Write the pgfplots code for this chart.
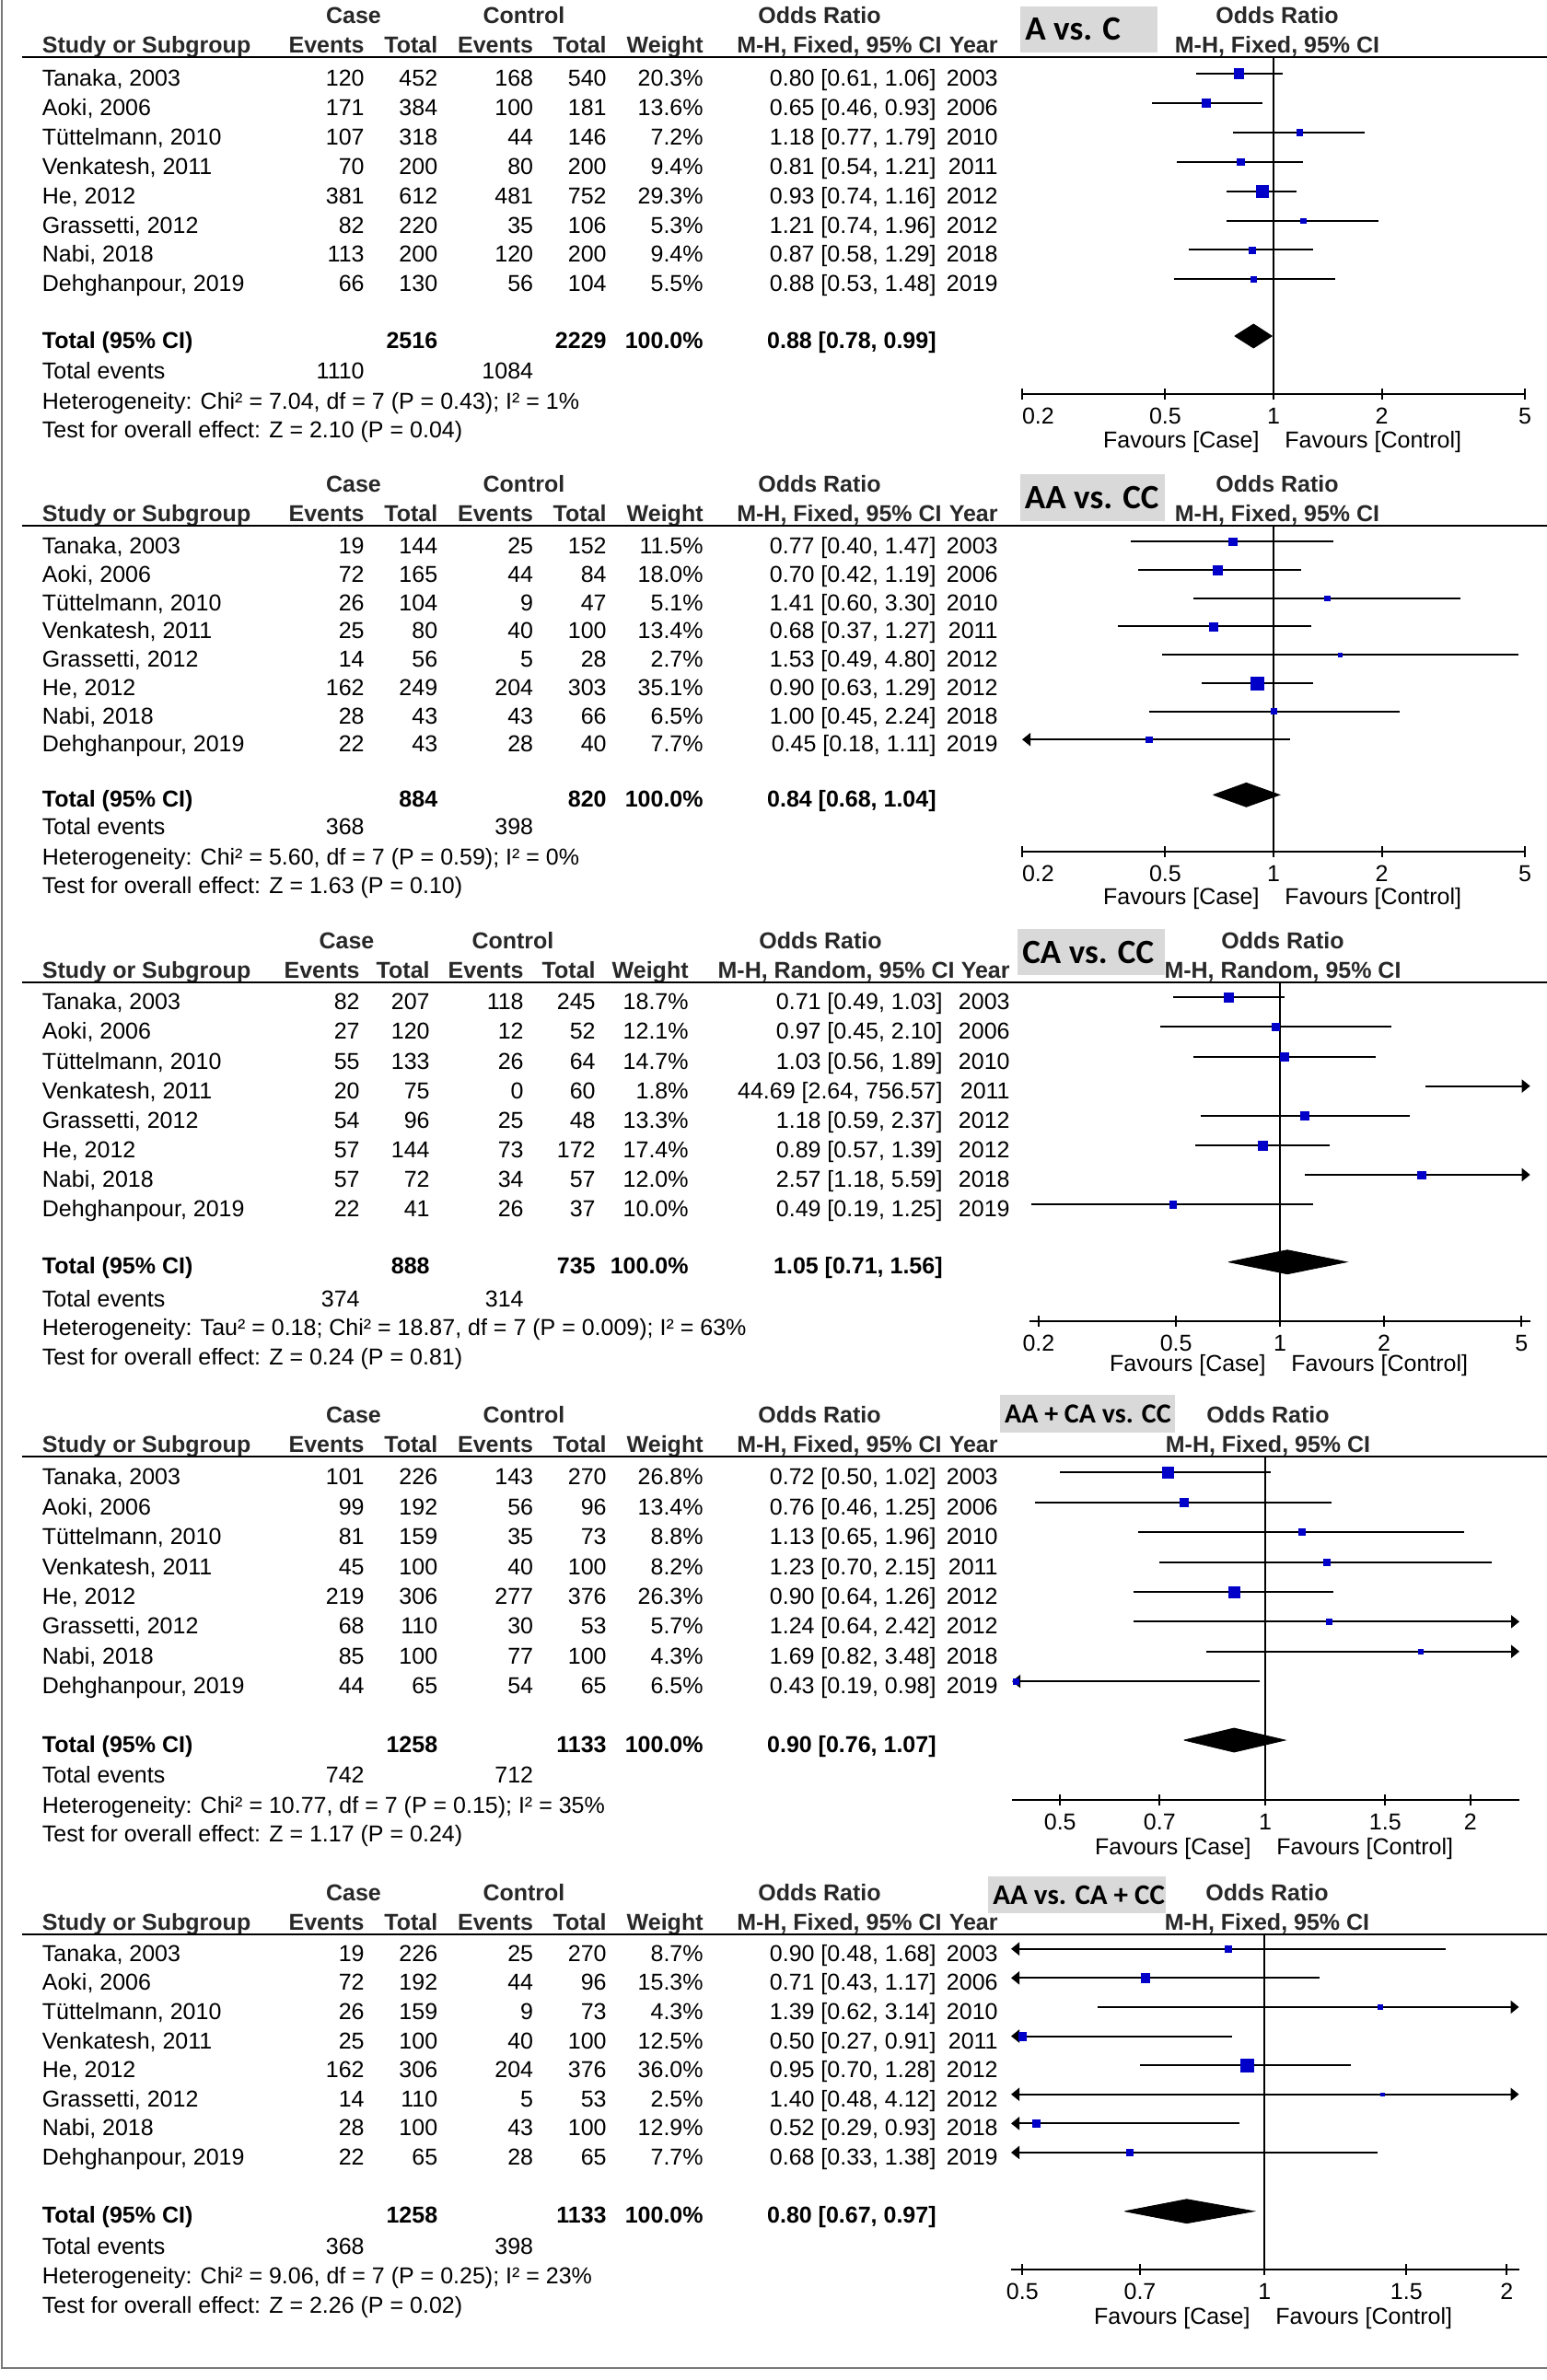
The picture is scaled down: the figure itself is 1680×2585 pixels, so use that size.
\documentclass[border=0pt]{standalone}
\usepackage{pgfplots}
\pgfplotsset{compat=1.18}
\usepackage{fontspec}
\setmainfont{Liberation Sans}
\newfontfamily\boxfont{Carlito}
\usetikzlibrary{arrows.meta}

\definecolor{sqblue}{RGB}{0,0,200}
\definecolor{boxgray}{RGB}{217,217,217}
\definecolor{framegray}{RGB}{120,120,120}
\definecolor{hdr}{RGB}{40,40,40}

\newcommand\tf{\fontsize{12.5}{15}\selectfont}

\tikzset{
  ar/.style={-{Triangle[length=4.5pt,width=7pt]}},
  al/.style={{Triangle[length=4.5pt,width=7pt]}-},
  alr/.style={{Triangle[length=4.5pt,width=7pt]}-{Triangle[length=4.5pt,width=7pt]}},
}
\pgfplotsset{
  fplot/.style={
    scale only axis, clip=false, anchor=south west,
    axis x line=bottom, axis y line=none,
    axis line style={-, line width=1pt, black},
    tick align=center, major tick length=6pt,
    xtick style={black, line width=1pt},
    xticklabel style={font=\tf, inner sep=0pt, anchor=north, yshift=-4.5pt},
  },
  ci/.style={black, line width=1pt, no marks, forget plot},
  sq/.style={only marks, mark=square*, color=sqblue, mark options={line width=0.2pt}, forget plot},
}
% study: [arrow]{row}{OR}{lo}{hi}{weight}
\newcommand\st[6][]{%
  \addplot[ci,#1] coordinates {(#4,-#2) (#5,-#2)};
  \addplot[sq, mark size={0.6*sqrt(#6)}] coordinates {(#3,-#2)};
}
% pooled diamond: {y}{top}{bottom}{OR}{lo}{hi}
\newcommand\dia[6]{%
  \addplot[fill=black, draw=black, line width=0.4pt, forget plot]
    coordinates {(#5,#1) (#4,#2) (#6,#1) (#4,#3) (#5,#1)};
}

% table columns
\newcommand\setstd{\def\xN{45.5}\def\xA{396}\def\xB{475.6}\def\xC{579.5}\def\xD{659}%
  \def\xW{764}\def\xO{1017}\def\xOh{1023}\def\xY{1084}\def\xCase{384}\def\xCtrl{569}\def\xOR{890}}
\newcommand\setwide{\def\xN{45.5}\def\xA{391}\def\xB{467}\def\xC{569}\def\xD{647}%
  \def\xW{748}\def\xO{1024}\def\xOh{1037}\def\xY{1097}\def\xCase{376.5}\def\xCtrl{557}\def\xOR{891}}

\newcommand\hdr[2]{%
  \begin{scope}[font=\tf\bfseries, text=hdr]
    \node[anchor=base] at (\xCase,\hA) {Case};
    \node[anchor=base] at (\xCtrl,\hA) {Control};
    \node[anchor=base] at (\xOR,\hA) {Odds Ratio};
    \node[anchor=base] at (#2,\hA) {Odds Ratio};
    \node[anchor=base west] at (\xN,\hB) {Study or Subgroup};
    \node[anchor=base east] at (\xA,\hB) {Events};
    \node[anchor=base east] at (\xB,\hB) {Total};
    \node[anchor=base east] at (\xC,\hB) {Events};
    \node[anchor=base east] at (\xD,\hB) {Total};
    \node[anchor=base east] at (\xW,\hB) {Weight};
    \node[anchor=base east] at (\xOh,\hB) {M-H, #1, 95\% CI};
    \node[anchor=base east] at (\xY,\hB) {Year};
    \node[anchor=base] at (#2,\hB) {M-H, #1, 95\% CI};
  \end{scope}
  \draw[line width=1pt] (24,\Lp) -- (1680,\Lp);
}
\newcommand\trow[9]{%
  \node[anchor=base west] at (\xN,{\rO+#1*\dR+13.5}) {#2};
  \node[anchor=base east] at (\xA,{\rO+#1*\dR+13.5}) {#3};
  \node[anchor=base east] at (\xB,{\rO+#1*\dR+13.5}) {#4};
  \node[anchor=base east] at (\xC,{\rO+#1*\dR+13.5}) {#5};
  \node[anchor=base east] at (\xD,{\rO+#1*\dR+13.5}) {#6};
  \node[anchor=base east] at (\xW,{\rO+#1*\dR+13.5}) {#7\%};
  \node[anchor=base east] at (\xO,{\rO+#1*\dR+13.5}) {#8};
  \node[anchor=base east] at (\xY,{\rO+#1*\dR+13.5}) {#9};
}
\newcommand\tot[5]{%
  \begin{scope}[font=\tf\bfseries]
    \node[anchor=base west] at (\xN,\tT) {Total (95\% CI)};
    \node[anchor=base east] at (\xB,\tT) {#1};
    \node[anchor=base east] at (\xD,\tT) {#2};
    \node[anchor=base east] at (\xW,\tT) {100.0\%};
    \node[anchor=base east] at (\xO,\tT) {#3};
  \end{scope}
  \node[anchor=base west] at (\xN,\tE) {Total events};
  \node[anchor=base east] at (\xA,\tE) {#4};
  \node[anchor=base east] at (\xC,\tE) {#5};
}
\newcommand\foot[3]{%
  \node[anchor=base west] at (\xN,\tH) {Heterogeneity: #1};
  \node[anchor=base west] at (\xN,\tS) {Test for overall effect: #2};
  \node[anchor=base east] at ({#3-15},\tF) {Favours [Case]};
  \node[anchor=base west] at ({#3+12},\tF) {Favours [Control]};
}
\newcommand\bx[6]{%
  \fill[boxgray] (#1,#2) rectangle (#3,#4);
  \node[anchor=west, font=\boxfont\bfseries\fontsize{#5}{#5}\selectfont] at ({#1+5},{(#2+#4)/2}) {#6};
}

\begin{document}
\begin{tikzpicture}
\begin{scope}[x=0.5pt, y=-0.5pt, every node/.style={inner sep=0pt}, font=\tf]
  \path[use as bounding box] (0,0) rectangle (1680,2585);
  \draw[framegray, line width=1.2pt] (2,0) -- (2,2572) -- (1680,2572);

  % ---- A vs. C
  \setstd
  \def\Lp{62.3}\def\hA{25.8}\def\hB{58}\def\rO{80}\def\dR{31.9}
  \def\tT{378}\def\tE{411.7}\def\tH{444}\def\tS{475.7}\def\tF{486}
  \bx{1108}{7}{1257}{57}{18.5}{A vs. C}
  \hdr{Fixed}{1387}
  \trow{0}{Tanaka, 2003}{120}{452}{168}{540}{20.3}{0.80 [0.61, 1.06]}{2003}
  \trow{1}{Aoki, 2006}{171}{384}{100}{181}{13.6}{0.65 [0.46, 0.93]}{2006}
  \trow{2}{Tüttelmann, 2010}{107}{318}{44}{146}{7.2}{1.18 [0.77, 1.79]}{2010}
  \trow{3}{Venkatesh, 2011}{70}{200}{80}{200}{9.4}{0.81 [0.54, 1.21]}{2011}
  \trow{4}{He, 2012}{381}{612}{481}{752}{29.3}{0.93 [0.74, 1.16]}{2012}
  \trow{5}{Grassetti, 2012}{82}{220}{35}{106}{5.3}{1.21 [0.74, 1.96]}{2012}
  \trow{6}{Nabi, 2018}{113}{200}{120}{200}{9.4}{0.87 [0.58, 1.29]}{2018}
  \trow{7}{Dehghanpour, 2019}{66}{130}{56}{104}{5.5}{0.88 [0.53, 1.48]}{2019}
  \tot{2516}{2229}{0.88 [0.78, 0.99]}{1110}{1084}
  \foot{Chi² = 7.04, df = 7 (P = 0.43); I² = 1\%}{Z = 2.10 (P = 0.04)}{1383}

  % ---- AA vs. CC
  \def\Lp{571}\def\hA{534.5}\def\hB{566.7}\def\rO{588.3}\def\dR{30.7}
  \def\tT{876.3}\def\tE{906}\def\tH{939}\def\tS{970}\def\tF{982}
  \bx{1107.5}{515}{1265.4}{566}{18.5}{AA vs. CC}
  \hdr{Fixed}{1387}
  \trow{0}{Tanaka, 2003}{19}{144}{25}{152}{11.5}{0.77 [0.40, 1.47]}{2003}
  \trow{1}{Aoki, 2006}{72}{165}{44}{84}{18.0}{0.70 [0.42, 1.19]}{2006}
  \trow{2}{Tüttelmann, 2010}{26}{104}{9}{47}{5.1}{1.41 [0.60, 3.30]}{2010}
  \trow{3}{Venkatesh, 2011}{25}{80}{40}{100}{13.4}{0.68 [0.37, 1.27]}{2011}
  \trow{4}{Grassetti, 2012}{14}{56}{5}{28}{2.7}{1.53 [0.49, 4.80]}{2012}
  \trow{5}{He, 2012}{162}{249}{204}{303}{35.1}{0.90 [0.63, 1.29]}{2012}
  \trow{6}{Nabi, 2018}{28}{43}{43}{66}{6.5}{1.00 [0.45, 2.24]}{2018}
  \trow{7}{Dehghanpour, 2019}{22}{43}{28}{40}{7.7}{0.45 [0.18, 1.11]}{2019}
  \tot{884}{820}{0.84 [0.68, 1.04]}{368}{398}
  \foot{Chi² = 5.60, df = 7 (P = 0.59); I² = 0\%}{Z = 1.63 (P = 0.10)}{1383}

  % ---- CA vs. CC
  \setwide
  \def\Lp{1066.7}\def\hA{1030.2}\def\hB{1062.4}\def\rO{1083.3}\def\dR{32.1}
  \def\tT{1383.7}\def\tE{1419}\def\tH{1450.7}\def\tS{1482.3}\def\tF{1489}
  \bx{1105}{1009}{1264.5}{1059}{18.5}{CA vs. CC}
  \hdr{Random}{1393}
  \trow{0}{Tanaka, 2003}{82}{207}{118}{245}{18.7}{0.71 [0.49, 1.03]}{2003}
  \trow{1}{Aoki, 2006}{27}{120}{12}{52}{12.1}{0.97 [0.45, 2.10]}{2006}
  \trow{2}{Tüttelmann, 2010}{55}{133}{26}{64}{14.7}{1.03 [0.56, 1.89]}{2010}
  \trow{3}{Venkatesh, 2011}{20}{75}{0}{60}{1.8}{44.69 [2.64, 756.57]}{2011}
  \trow{4}{Grassetti, 2012}{54}{96}{25}{48}{13.3}{1.18 [0.59, 2.37]}{2012}
  \trow{5}{He, 2012}{57}{144}{73}{172}{17.4}{0.89 [0.57, 1.39]}{2012}
  \trow{6}{Nabi, 2018}{57}{72}{34}{57}{12.0}{2.57 [1.18, 5.59]}{2018}
  \trow{7}{Dehghanpour, 2019}{22}{41}{26}{37}{10.0}{0.49 [0.19, 1.25]}{2019}
  \tot{888}{735}{1.05 [0.71, 1.56]}{374}{314}
  \foot{Tau² = 0.18; Chi² = 18.87, df = 7 (P = 0.009); I² = 63\%}{Z = 0.24 (P = 0.81)}{1390}

  % ---- AA + CA vs. CC
  \setstd
  \def\Lp{1581.7}\def\hA{1545.2}\def\hB{1577.4}\def\rO{1599.3}\def\dR{32.4}
  \def\tT{1903}\def\tE{1936.4}\def\tH{1969.4}\def\tS{2000.7}\def\tF{2014}
  \bx{1085.7}{1515}{1276}{1556}{15}{AA + CA vs. CC}
  \hdr{Fixed}{1377}
  \trow{0}{Tanaka, 2003}{101}{226}{143}{270}{26.8}{0.72 [0.50, 1.02]}{2003}
  \trow{1}{Aoki, 2006}{99}{192}{56}{96}{13.4}{0.76 [0.46, 1.25]}{2006}
  \trow{2}{Tüttelmann, 2010}{81}{159}{35}{73}{8.8}{1.13 [0.65, 1.96]}{2010}
  \trow{3}{Venkatesh, 2011}{45}{100}{40}{100}{8.2}{1.23 [0.70, 2.15]}{2011}
  \trow{4}{He, 2012}{219}{306}{277}{376}{26.3}{0.90 [0.64, 1.26]}{2012}
  \trow{5}{Grassetti, 2012}{68}{110}{30}{53}{5.7}{1.24 [0.64, 2.42]}{2012}
  \trow{6}{Nabi, 2018}{85}{100}{77}{100}{4.3}{1.69 [0.82, 3.48]}{2018}
  \trow{7}{Dehghanpour, 2019}{44}{65}{54}{65}{6.5}{0.43 [0.19, 0.98]}{2019}
  \tot{1258}{1133}{0.90 [0.76, 1.07]}{742}{712}
  \foot{Chi² = 10.77, df = 7 (P = 0.15); I² = 35\%}{Z = 1.17 (P = 0.24)}{1374}

  % ---- AA vs. CA + CC
  \def\Lp{2100.7}\def\hA{2064.2}\def\hB{2096.4}\def\rO{2116.7}\def\dR{31.6}
  \def\tT{2414.7}\def\tE{2448.2}\def\tH{2480.7}\def\tS{2512.2}\def\tF{2524}
  \bx{1073}{2038}{1266}{2078}{15.5}{AA vs. CA + CC}
  \hdr{Fixed}{1376}
  \trow{0}{Tanaka, 2003}{19}{226}{25}{270}{8.7}{0.90 [0.48, 1.68]}{2003}
  \trow{1}{Aoki, 2006}{72}{192}{44}{96}{15.3}{0.71 [0.43, 1.17]}{2006}
  \trow{2}{Tüttelmann, 2010}{26}{159}{9}{73}{4.3}{1.39 [0.62, 3.14]}{2010}
  \trow{3}{Venkatesh, 2011}{25}{100}{40}{100}{12.5}{0.50 [0.27, 0.91]}{2011}
  \trow{4}{He, 2012}{162}{306}{204}{376}{36.0}{0.95 [0.70, 1.28]}{2012}
  \trow{5}{Grassetti, 2012}{14}{110}{5}{53}{2.5}{1.40 [0.48, 4.12]}{2012}
  \trow{6}{Nabi, 2018}{28}{100}{43}{100}{12.9}{0.52 [0.29, 0.93]}{2018}
  \trow{7}{Dehghanpour, 2019}{22}{65}{28}{65}{7.7}{0.68 [0.33, 1.38]}{2019}
  \tot{1258}{1133}{0.80 [0.67, 0.97]}{368}{398}
  \foot{Chi² = 9.06, df = 7 (P = 0.25); I² = 23\%}{Z = 2.26 (P = 0.02)}{1373}
\end{scope}

% ===== forest plots
\begin{axis}[fplot, xmode=log, at={(555pt,-213.85pt)}, width=273pt, height=182.7pt,
  xmin=0.2, xmax=5, ymin=-10.8997, ymax=0.5549,
  xtick={0.2,0.5,1,2,5}, xticklabels={\rlap{0.2},0.5,1,2,5}]
  \addplot[ci] coordinates {(1,-10.8997) (1,0.5549)};
  \st{0}{0.80}{0.61}{1.06}{20.3}
  \st{1}{0.65}{0.46}{0.93}{13.6}
  \st{2}{1.18}{0.77}{1.79}{7.2}
  \st{3}{0.81}{0.54}{1.21}{9.4}
  \st{4}{0.93}{0.74}{1.16}{29.3}
  \st{5}{1.21}{0.74}{1.96}{5.3}
  \st{6}{0.87}{0.58}{1.29}{9.4}
  \st{7}{0.88}{0.53}{1.48}{5.5}
  \dia{-8.934}{-8.5265}{-9.3415}{0.88}{0.78}{0.99}
\end{axis}

\begin{axis}[fplot, xmode=log, at={(555pt,-462.5pt)}, width=273pt, height=177pt,
  xmin=0.2, xmax=5, ymin=-10.967, ymax=0.5635,
  xtick={0.2,0.5,1,2,5}, xticklabels={\rlap{0.2},0.5,1,2,5}]
  \addplot[ci] coordinates {(1,-10.967) (1,0.5635)};
  \st{0}{0.77}{0.40}{1.47}{11.5}
  \st{1}{0.70}{0.42}{1.19}{18.0}
  \st{2}{1.41}{0.60}{3.30}{5.1}
  \st{3}{0.68}{0.37}{1.27}{13.4}
  \st{4}{1.53}{0.49}{4.80}{2.7}
  \st{5}{0.90}{0.63}{1.29}{35.1}
  \st{6}{1.00}{0.45}{2.24}{6.5}
  \st[al]{7}{0.45}{0.2}{1.11}{7.7}
  \dia{-8.958}{-8.5345}{-9.3815}{0.84}{0.68}{1.04}
\end{axis}

\begin{axis}[fplot, xmode=log, at={(559.15pt,-717.5pt)}, width=271.7pt, height=184.15pt,
  xmin=0.1886, xmax=5.3, ymin=-10.956, ymax=0.5171,
  xtick={0.2,0.5,1,2,5}, xticklabels={0.2,0.5,1,2,5}]
  \addplot[ci] coordinates {(1,-10.956) (1,0.5171)};
  \st{0}{0.71}{0.49}{1.03}{18.7}
  \st{1}{0.97}{0.45}{2.10}{12.1}
  \st{2}{1.03}{0.56}{1.89}{14.7}
  \addplot[ci,ar] coordinates {(2.64,-3) (5.3,-3)};
  \st{4}{1.18}{0.59}{2.37}{13.3}
  \st{5}{0.89}{0.57}{1.39}{17.4}
  \st[ar]{6}{2.57}{1.18}{5.3}{12.0}
  \st{7}{0.49}{0.19}{1.25}{10.0}
  \dia{-8.953}{-8.548}{-9.358}{1.05}{0.71}{1.56}
\end{axis}

\begin{axis}[fplot, xmode=log, at={(549.5pt,-977.5pt)}, width=275.5pt, height=186.65pt,
  xmin=0.425, xmax=2.36, ymin=-10.978, ymax=0.5432,
  xtick={0.5,0.7,1,1.5,2}, xticklabels={0.5,0.7,1,1.5,2}]
  \addplot[ci] coordinates {(1,-10.978) (1,0.5432)};
  \st{0}{0.72}{0.50}{1.02}{26.8}
  \st{1}{0.76}{0.46}{1.25}{13.4}
  \st{2}{1.13}{0.65}{1.96}{8.8}
  \st{3}{1.23}{0.70}{2.15}{8.2}
  \st{4}{0.90}{0.64}{1.26}{26.3}
  \st[ar]{5}{1.24}{0.64}{2.36}{5.7}
  \st[ar]{6}{1.69}{0.82}{2.36}{4.3}
  \st[al]{7}{0.43}{0.425}{0.98}{6.5}
  \dia{-8.972}{-8.571}{-9.373}{0.90}{0.76}{1.07}
\end{axis}

\begin{axis}[fplot, xmode=log, at={(549pt,-1232.5pt)}, width=275.75pt, height=182.15pt,
  xmin=0.484, xmax=2.07, ymin=-11.022, ymax=0.5063,
  xtick={0.5,0.7,1,1.5,2}, xticklabels={0.5,0.7,1,1.5,2}]
  \addplot[ci] coordinates {(1,-11.022) (1,0.5063)};
  \st[al]{0}{0.90}{0.484}{1.68}{8.7}
  \st[al]{1}{0.71}{0.484}{1.17}{15.3}
  \st[ar]{2}{1.39}{0.62}{2.07}{4.3}
  \st[al]{3}{0.50}{0.484}{0.91}{12.5}
  \st{4}{0.95}{0.70}{1.28}{36.0}
  \st[alr]{5}{1.40}{0.484}{2.07}{2.5}
  \st[al]{6}{0.52}{0.484}{0.93}{12.9}
  \st[al]{7}{0.68}{0.484}{1.38}{7.7}
  \dia{-9.019}{-8.608}{-9.430}{0.80}{0.67}{0.97}
\end{axis}
\end{tikzpicture}
\end{document}
